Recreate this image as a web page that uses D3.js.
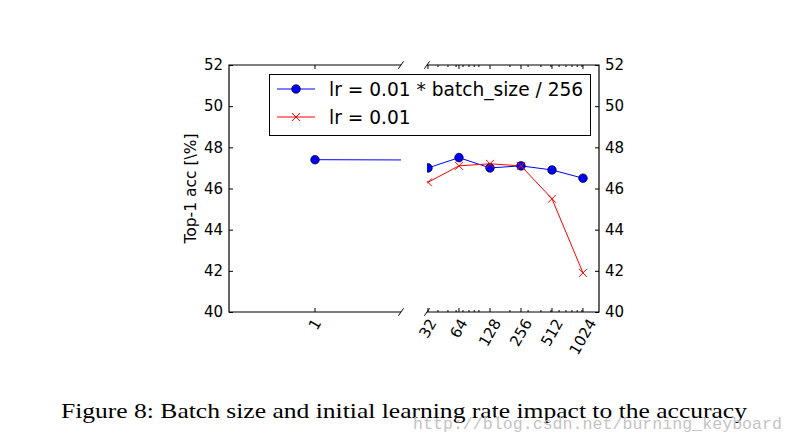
<!DOCTYPE html>
<html>
<head>
<meta charset="utf-8">
<script src="https://cdn.jsdelivr.net/npm/d3@7"></script>
<style>
  html, body { margin: 0; padding: 0; background: #fff; }
  svg { display: block; }
</style>
</head>
<body>
<svg id="chart" width="794" height="443" font-family="DejaVu Sans, sans-serif"></svg>
<script>
// ---- data ----
const batchSizes = [1, 32, 64, 128, 256, 512, 1024];
const accScaledLr = [47.4, 47.0, 47.5, 47.0, 47.1, 46.9, 46.5];
const batchSizesFixed = [32, 64, 128, 256, 512, 1024];
const accFixedLr = [46.3, 47.1, 47.2, 47.1, 45.5, 41.9];
const yTickValues = [40, 42, 44, 46, 48, 50, 52];
const leftXTicks = [1];
const rightXTicks = [32, 64, 128, 256, 512, 1024];
const legendLabels = ["lr = 0.01 * batch_size / 256", "lr = 0.01"];
const yLabel = "Top-1 acc [\\%]";
const caption = "Figure 8: Batch size and initial learning rate impact to the accuracy";
const watermark = "http://blog.csdn.net/burning_keyboard";

// ---- layout ----
const yTop = 65, yBot = 312;
const L = {x0: 229, x1: 401};
const R = {x0: 427, x1: 599};
const tickFont = 15;
const svg = d3.select("#chart");

const y = d3.scaleLinear().domain([40, 52]).range([yBot, yTop]);
const xL = d3.scaleLinear().domain([0, 2]).range([L.x0, L.x1]);
const xR = d3.scaleLog().base(2).domain([31.3, 1465]).range([R.x0, R.x1]);

const defs = svg.append("defs");
defs.append("clipPath").attr("id", "clipL").append("rect")
  .attr("x", L.x0).attr("y", yTop).attr("width", L.x1 - L.x0).attr("height", yBot - yTop);
defs.append("clipPath").attr("id", "clipR").append("rect")
  .attr("x", R.x0).attr("y", yTop).attr("width", R.x1 - R.x0).attr("height", yBot - yTop);

const blueData = batchSizes.map((b, i) => ({b, v: accScaledLr[i]}));
const redData = batchSizesFixed.map((b, i) => ({b, v: accFixedLr[i]}));

function drawSeries(g, x, panel) {
  const inside = d => x(d.b) >= panel.x0 - 0.5 && x(d.b) <= panel.x1 + 0.5;
  const line = d3.line().x(d => x(d.b)).y(d => y(d.v));
  g.append("path").datum(blueData).attr("d", line)
    .attr("fill", "none").attr("stroke", "#0000ff").attr("stroke-width", 1);
  g.append("path").datum(redData).attr("d", line)
    .attr("fill", "none").attr("stroke", "#ff0000").attr("stroke-width", 1);
  g.selectAll("circle.b").data(blueData.filter(inside)).join("circle")
    .attr("cx", d => x(d.b)).attr("cy", d => y(d.v)).attr("r", 4.3)
    .attr("fill", "#0000ff").attr("stroke", "#000").attr("stroke-width", 0.7);
  const s = 4;
  g.selectAll("path.x").data(redData.filter(inside)).join("path")
    .attr("d", d => {
      const cx = x(d.b), cy = y(d.v);
      return `M${cx - s},${cy - s}L${cx + s},${cy + s}M${cx - s},${cy + s}L${cx + s},${cy - s}`;
    })
    .attr("stroke", "#ff0000").attr("stroke-width", 1).attr("fill", "none");
}

drawSeries(svg.append("g").attr("clip-path", "url(#clipL)"), xL, L);
drawSeries(svg.append("g").attr("clip-path", "url(#clipR)"), xR, R);

// ---- axes ----
const axL = svg.append("g").attr("transform", `translate(${L.x0},0)`)
  .call(d3.axisLeft(y).tickValues(yTickValues).tickSizeInner(-4).tickSizeOuter(0).tickPadding(6));
const axR = svg.append("g").attr("transform", `translate(${R.x1},0)`)
  .call(d3.axisRight(y).tickValues(yTickValues).tickSizeInner(-4).tickSizeOuter(0).tickPadding(6));
[axL, axR].forEach(a => {
  a.attr("font-family", "DejaVu Sans, sans-serif").attr("font-size", tickFont);
  a.select(".domain").remove();
  a.selectAll("text").attr("fill", "#000");
  a.selectAll("line").attr("stroke", "#000");
});

// x ticks (inward, top and bottom)
function xTicks(g, scale, values, len) {
  values.forEach(v => {
    const xx = scale(v);
    g.append("line").attr("x1", xx).attr("x2", xx).attr("y1", yBot).attr("y2", yBot - len).attr("stroke", "#000");
    g.append("line").attr("x1", xx).attr("x2", xx).attr("y1", yTop).attr("y2", yTop + len).attr("stroke", "#000");
  });
}
const tg = svg.append("g");
xTicks(tg, xL, leftXTicks, 4);
xTicks(tg, xR, rightXTicks, 4);
const minor = xR.copy().base(10).ticks().filter(v => !rightXTicks.includes(v));
xTicks(tg, xR, minor, 2);

// rotated tick labels (matplotlib style rotation=60, ha center, va top)
function rotLabels(scale, values) {
  values.forEach(v => {
    const t = svg.append("text").text(v).attr("font-size", tickFont)
      .attr("text-anchor", "middle").attr("dominant-baseline", "central");
    const w = t.node().getComputedTextLength();
    const h = tickFont * 1.15;
    const a = Math.PI / 3;
    const H = w * Math.sin(a) + h * Math.cos(a);
    const cx = scale(v), cy = yBot + 4 + H / 2;
    t.attr("x", 0).attr("y", 0).attr("transform", `translate(${cx},${cy}) rotate(-60)`);
  });
}
rotLabels(xL, leftXTicks);
rotLabels(xR, rightXTicks);

// spines
const sp = svg.append("g").attr("stroke", "#000").attr("stroke-width", 1.2).attr("fill", "none");
sp.append("path").attr("d", `M${L.x1},${yTop}H${L.x0}V${yBot}H${L.x1}`);
sp.append("path").attr("d", `M${R.x0},${yTop}H${R.x1}V${yBot}H${R.x0}`);
// break marks
const dx = 2.6, dy = 3.7;
[L.x1, R.x0].forEach(xx => {
  [yTop, yBot].forEach(yy => {
    sp.append("line").attr("x1", xx - dx).attr("y1", yy + dy).attr("x2", xx + dx).attr("y2", yy - dy)
      .attr("stroke-width", 1);
  });
});

// y label
svg.append("text").text(yLabel)
  .attr("transform", `translate(191,${(yTop + yBot) / 2}) rotate(-90)`)
  .attr("text-anchor", "middle").attr("dominant-baseline", "central")
  .attr("font-size", 15.5).attr("fill", "#000");

// legend
const lg = svg.append("g");
lg.append("rect").attr("x", 269.5).attr("y", 74.5).attr("width", 321).attr("height", 61)
  .attr("fill", "#fff").attr("stroke", "#000").attr("stroke-width", 1);
const legY = [89, 117];
lg.append("line").attr("x1", 277).attr("x2", 315).attr("y1", legY[0]).attr("y2", legY[0])
  .attr("stroke", "#0000ff").attr("stroke-width", 1);
lg.append("circle").attr("cx", 296).attr("cy", legY[0]).attr("r", 4.3)
  .attr("fill", "#0000ff").attr("stroke", "#000").attr("stroke-width", 0.7);
lg.append("line").attr("x1", 277).attr("x2", 315).attr("y1", legY[1]).attr("y2", legY[1])
  .attr("stroke", "#ff0000").attr("stroke-width", 1);
lg.append("path").attr("d", `M292,${legY[1] - 4}L300,${legY[1] + 4}M292,${legY[1] + 4}L300,${legY[1] - 4}`)
  .attr("stroke", "#ff0000").attr("stroke-width", 1);
legendLabels.forEach((s, i) => {
  lg.append("text").text(s).attr("x", 329).attr("y", legY[i])
    .attr("dominant-baseline", "central").attr("font-size", 18.6).attr("fill", "#000");
});

// caption and watermark
svg.append("text").text(caption).attr("x", 61).attr("y", 418)
  .attr("font-family", "Liberation Serif, serif").attr("font-size", 21)
  .attr("textLength", 686).attr("lengthAdjust", "spacingAndGlyphs").attr("fill", "#000");
svg.append("text").text(watermark).attr("x", 413).attr("y", 429)
  .attr("font-family", "Liberation Mono, monospace").attr("font-size", 17)
  .attr("textLength", 369).attr("lengthAdjust", "spacingAndGlyphs").attr("fill", "#c4c4c4");
</script>
</body>
</html>
